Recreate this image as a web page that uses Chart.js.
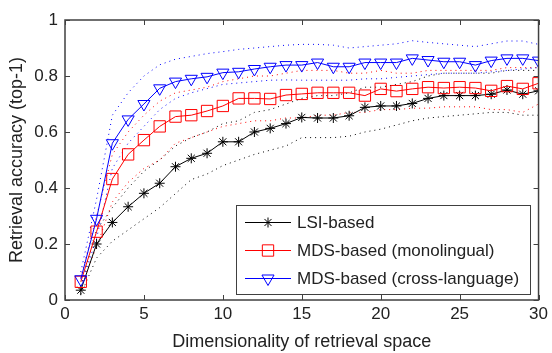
<!DOCTYPE html>
<html>
<head>
<meta charset="utf-8">
<script src="https://cdn.jsdelivr.net/npm/chart.js@4/dist/chart.umd.min.js"></script>
<style>
  html, body { margin: 0; padding: 0; background: #fff; }
</style>
</head>
<body>
<canvas id="chart" width="552" height="353"></canvas>
<script>
// dimensionality of the retrieval space (x axis)
const dims = [1,2,3,4,5,6,7,8,9,10,11,12,13,14,15,16,17,18,19,20,21,22,23,24,25,26,27,28,29,30];

// LSI-based
const lsiMean  = [0.035,0.20,0.277,0.333,0.381,0.417,0.476,0.506,0.524,0.565,0.565,0.60,0.613,0.63,0.652,0.65,0.65,0.658,0.688,0.693,0.693,0.702,0.72,0.73,0.73,0.73,0.735,0.75,0.735,0.747];
const lsiUpper = [0.05,0.25,0.33,0.40,0.46,0.50,0.55,0.58,0.60,0.63,0.64,0.67,0.68,0.70,0.72,0.73,0.73,0.74,0.76,0.76,0.77,0.78,0.80,0.81,0.81,0.81,0.81,0.82,0.82,0.82];
const lsiLower = [0.02,0.15,0.21,0.25,0.29,0.33,0.38,0.43,0.45,0.48,0.50,0.52,0.535,0.55,0.58,0.58,0.58,0.585,0.60,0.61,0.625,0.64,0.65,0.655,0.66,0.665,0.67,0.67,0.66,0.66];

// MDS-based (monolingual)
const monoMean  = [0.065,0.244,0.432,0.52,0.571,0.62,0.655,0.66,0.675,0.693,0.72,0.72,0.718,0.732,0.736,0.74,0.74,0.74,0.73,0.754,0.746,0.754,0.76,0.757,0.76,0.757,0.747,0.764,0.754,0.774];
const monoUpper = [0.08,0.30,0.52,0.60,0.66,0.71,0.74,0.75,0.76,0.78,0.79,0.80,0.80,0.81,0.82,0.82,0.82,0.81,0.81,0.82,0.81,0.81,0.82,0.82,0.82,0.82,0.82,0.83,0.83,0.83];
const monoLower = [0.05,0.19,0.35,0.42,0.47,0.50,0.56,0.58,0.60,0.62,0.63,0.64,0.64,0.65,0.65,0.66,0.66,0.67,0.67,0.68,0.68,0.685,0.685,0.69,0.69,0.69,0.68,0.68,0.67,0.70];

// MDS-based (cross-language)
const crossMean  = [0.074,0.29,0.56,0.645,0.70,0.756,0.78,0.79,0.797,0.812,0.815,0.825,0.833,0.839,0.839,0.848,0.833,0.833,0.848,0.848,0.848,0.863,0.857,0.851,0.851,0.839,0.855,0.863,0.863,0.855];
const crossUpper = [0.10,0.36,0.66,0.74,0.80,0.84,0.86,0.87,0.88,0.887,0.895,0.90,0.905,0.91,0.913,0.913,0.91,0.90,0.905,0.91,0.915,0.926,0.92,0.915,0.91,0.905,0.915,0.925,0.925,0.913];
const crossLower = [0.05,0.22,0.47,0.56,0.62,0.68,0.72,0.74,0.755,0.77,0.775,0.78,0.785,0.786,0.785,0.785,0.785,0.785,0.79,0.79,0.795,0.80,0.805,0.81,0.81,0.81,0.815,0.82,0.825,0.83];

const seriesNames = ['LSI-based', 'MDS-based (monolingual)', 'MDS-based (cross-language)'];
const xTicks = [0, 5, 10, 15, 20, 25, 30];
const yTicks = [0, 0.2, 0.4, 0.6, 0.8, 1];
const yTickLabels = ['0', '0.2', '0.4', '0.6', '0.8', '1'];

const FONT = '"Liberation Sans", Arial, sans-serif';
const TEXT = '#222';
const AXIS = '#404040';

const pts = arr => dims.map((d, i) => ({ x: d, y: arr[i] }));

function meanSet(label, arr, color, style, radius, rot) {
  return {
    label: label, data: pts(arr), borderColor: color, borderWidth: 1,
    pointStyle: style, pointRadius: radius, pointRotation: rot || 0,
    pointBorderColor: color, pointBackgroundColor: 'rgba(0,0,0,0)',
    pointBorderWidth: 1, tension: 0, fill: false, order: 0
  };
}
function bandSet(arr, color) {
  return {
    label: '', data: pts(arr), borderColor: color, borderWidth: 1,
    borderDash: [1, 4], pointRadius: 0, tension: 0, fill: false, order: 1
  };
}

// inward tick marks + box around the plot
const boxPlugin = {
  id: 'box',
  afterDatasetsDraw(chart) {
    const { ctx, chartArea: a, scales } = chart;
    ctx.save();
    ctx.strokeStyle = AXIS;
    ctx.lineWidth = 1;
    ctx.beginPath();
    xTicks.forEach(v => {
      const px = Math.round(scales.x.getPixelForValue(v)) + 0.5;
      ctx.moveTo(px, a.bottom); ctx.lineTo(px, a.bottom - 5);
      ctx.moveTo(px, a.top); ctx.lineTo(px, a.top + 5);
    });
    yTicks.forEach(v => {
      const py = Math.round(scales.y.getPixelForValue(v)) + 0.5;
      ctx.moveTo(a.left, py); ctx.lineTo(a.left + 5, py);
      ctx.moveTo(a.right, py); ctx.lineTo(a.right - 5, py);
    });
    ctx.stroke();
    ctx.lineWidth = 1.5;
    ctx.strokeRect(a.left, a.top, a.right - a.left, a.bottom - a.top);
    ctx.restore();
  }
};

// legend box inside the plot, lower right
const legendPlugin = {
  id: 'insideLegend',
  afterDraw(chart) {
    const { ctx } = chart;
    const bx = 236, by = 205, bw = 294, bh = 89;
    ctx.save();
    ctx.fillStyle = '#fff';
    ctx.fillRect(bx, by, bw, bh);
    ctx.strokeStyle = AXIS;
    ctx.lineWidth = 1;
    ctx.strokeRect(bx + 0.5, by + 0.5, bw, bh);
    seriesNames.forEach((name, i) => {
      const ds = chart.data.datasets.find(d => d.label === name);
      const y = by + 17.5 + i * 28;
      ctx.strokeStyle = ds.borderColor;
      ctx.fillStyle = 'rgba(0,0,0,0)';
      ctx.lineWidth = 1;
      ctx.setLineDash([]);
      ctx.beginPath();
      ctx.moveTo(245, y); ctx.lineTo(291, y);
      ctx.stroke();
      Chart.helpers.drawPoint(ctx, {
        pointStyle: ds.pointStyle, radius: ds.pointRadius, rotation: ds.pointRotation,
        borderWidth: 1
      }, 268, y);
      ctx.fillStyle = TEXT;
      ctx.font = '17px ' + FONT;
      ctx.textBaseline = 'middle';
      ctx.fillText(ds.label, 297, y + 1);
    });
    ctx.restore();
  }
};

new Chart(document.getElementById('chart'), {
  type: 'line',
  data: {
    datasets: [
      meanSet(seriesNames[2], crossMean, '#0000ff', 'triangle', 7, 180),
      meanSet(seriesNames[1], monoMean, '#ff0000', 'rect', 8),
      meanSet(seriesNames[0], lsiMean, '#000000', 'star', 5),
      bandSet(crossUpper, '#0000ff'),
      bandSet(crossLower, '#0000ff'),
      bandSet(monoUpper, '#ff0000'),
      bandSet(monoLower, '#ff0000'),
      bandSet(lsiUpper, '#000000'),
      bandSet(lsiLower, '#000000')
    ]
  },
  options: {
    responsive: false,
    animation: false,
    devicePixelRatio: 1,
    layout: { padding: { top: 20, right: 10, left: 0, bottom: 0 } },
    plugins: { legend: { display: false }, tooltip: { enabled: false } },
    scales: {
      x: {
        type: 'linear', min: 0, max: 30,
        afterFit: s => { s.height = 53; },
        afterBuildTicks: s => { s.ticks = xTicks.map(v => ({ value: v })); },
        grid: { display: false, drawTicks: false },
        border: { display: false },
        ticks: { color: TEXT, font: { family: FONT, size: 17 }, padding: 4, maxRotation: 0 },
        title: { display: true, text: 'Dimensionality of retrieval space', color: TEXT,
                 font: { family: FONT, size: 18 }, padding: { top: 0, bottom: 0 } }
      },
      y: {
        min: 0, max: 1,
        afterFit: s => { s.width = 65; },
        afterBuildTicks: s => { s.ticks = yTicks.map(v => ({ value: v })); },
        grid: { display: false, drawTicks: false },
        border: { display: false },
        ticks: { color: TEXT, font: { family: FONT, size: 17 }, padding: 7,
                 callback: v => yTickLabels[yTicks.indexOf(v)] },
        title: { display: true, text: 'Retrieval accuracy (top-1)', color: TEXT,
                 font: { family: FONT, size: 18 }, padding: { top: 6, bottom: 0 } }
      }
    }
  },
  plugins: [boxPlugin, legendPlugin]
});
</script>
</body>
</html>
